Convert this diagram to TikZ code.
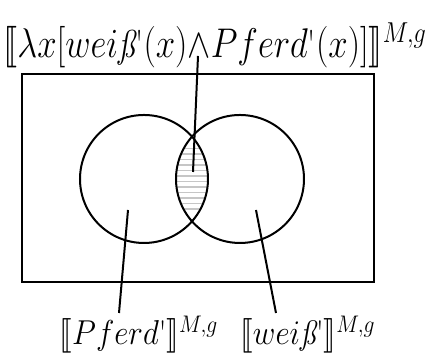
\documentclass[tikz,border=0pt]{standalone}
\usepackage{amsmath}
\usepackage{stmaryrd}
\usepackage{tikz}
\usetikzlibrary{positioning,calc}
\newcommand{\qt}{\text{\upshape\textquotesingle}}
\newcommand{\wss}{wei\text{\itshape ß}}

\begin{document}
\begin{tikzpicture}[x=0.5pt,y=0.5pt,line width=1pt,
    lbl/.style={font=\fontsize{17}{20}\selectfont,inner sep=0pt,anchor=base},
    biglbl/.style={lbl,font=\fontsize{19.5}{23}\selectfont},
    hatch/.style={gray!45,line width=0.8pt}]
    \useasboundingbox (0,0) rectangle (430,356);
    % universe and the two sets
    \node[draw,minimum width=176pt,minimum height=104pt,inner sep=0pt] (univ) at (198,178) {};
    \coordinate (cp) at (144,177);
    \coordinate (cw) at (240,177);
    \begin{scope}
      \clip (cp) circle (64);
      \clip (cw) circle (64);
      \foreach \y in {147,152.5,...,210} \draw[hatch] (170,\y) -- (215,\y);
    \end{scope}
    \draw (cp) circle (64);
    \draw (cw) circle (64);
    % labels
    \node[biglbl] (both) at (215,298) {\scalebox{0.84}[1]{$\llbracket\lambda x[\wss\qt(x){\wedge}Pferd\qt(x)]\rrbracket^{M,g}$}};
    \node[lbl] (pferd) at (139,11) {\scalebox{0.9}[1]{$\llbracket Pferd\qt\rrbracket^{M,g}$}};
    \node[lbl] (weiss) at (308,11) {\scalebox{0.9}[1]{$\llbracket \wss\qt\rrbracket^{M,g}$}};
    \coordinate (inlens) at (193,184);
    \coordinate (inp) at (128,146);
    \coordinate (inw) at (256,146);
    \coordinate (tb) at (198,300);
    \coordinate (pb) at (119,43);
    \coordinate (wb) at (276,43);
    \draw (tb) -- (inlens);
    \draw (pb) -- (inp);
    \draw (wb) -- (inw);
\end{tikzpicture}
\end{document}
